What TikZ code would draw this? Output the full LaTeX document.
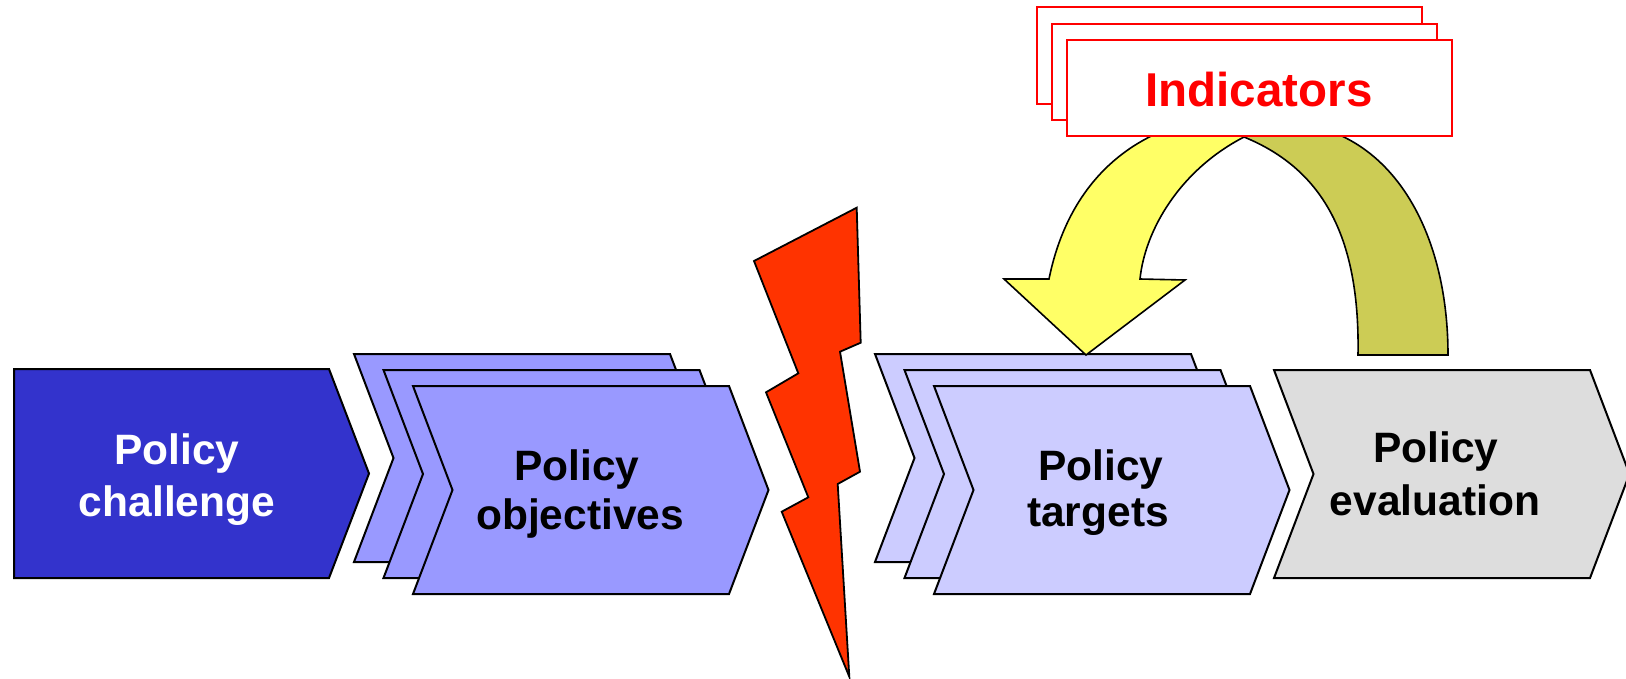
\documentclass[tikz,border=0pt]{standalone}
\usepackage{fontspec}
\setmainfont{Liberation Sans}
\definecolor{chalfill}{HTML}{3333CC}
\definecolor{objfill}{HTML}{9999FF}
\definecolor{tgtfill}{HTML}{CCCCFF}
\definecolor{evalfill}{HTML}{DDDDDD}
\definecolor{boltfill}{HTML}{FF3300}
\definecolor{arrowyellow}{HTML}{FFFF66}
\definecolor{arrowolive}{HTML}{CCCC55}
\definecolor{indred}{HTML}{FF0000}
\tikzset{
  pics/chevron/.style={code={\path[pic actions] (0,0) -- (316,0) -- (355.5,104) -- (316,208) -- (0,208) -- (39.5,104) -- cycle;}},
  pics/arrowbox/.style={code={\path[pic actions] (0,0) -- (315,0) -- (355,104.5) -- (315,209) -- (0,209) -- cycle;}},
  stepshape/.style={draw=black, line width=2pt, line join=miter},
  lbl/.style={font=\fontsize{42.5}{52}\selectfont\bfseries, anchor=base, inner sep=0pt},
  indbox/.style={draw=indred, fill=white, line width=1.6pt},
  bandline/.style={draw=black, line width=1.6pt, line join=miter},
}
\begin{document}
\begin{tikzpicture}[x=1pt,y=-1pt]
\useasboundingbox (0,0) rectangle (1626,678);
\fill[white] (0,0) rectangle (1626,678);

% Policy challenge
\pic[stepshape, fill=chalfill] at (14,369) {arrowbox};
\node[lbl, text=white] (chal1) at (177,464) {Policy};
\node[lbl, text=white] (chal2) at (177,516) {challenge};

% Policy objectives stack
\pic[stepshape, fill=objfill] at (354,354) {chevron};
\pic[stepshape, fill=objfill] at (383.5,370) {chevron};
\pic[stepshape, fill=objfill] at (413,386) {chevron};
\node[lbl] (obj1) at (577,480) {Policy};
\node[lbl] (obj2) at (580,529) {objectives};

% Lightning bolt
\draw[stepshape, line width=1.8pt, fill=boltfill] (754,261) -- (856.7,207.7) -- (860.7,342.7) -- (840,351.7) -- (860,471.7) -- (837.7,484) -- (849.3,676.7) -- (781.7,511.7) -- (808.3,497.3) -- (766,392.3) -- (798.3,373.3) -- cycle;

% Policy targets stack
\pic[stepshape, fill=tgtfill] at (875,354) {chevron};
\pic[stepshape, fill=tgtfill] at (904.5,370) {chevron};
\pic[stepshape, fill=tgtfill] at (934,386) {chevron};
\node[lbl] (tgt1) at (1101,480) {Policy};
\node[lbl] (tgt2) at (1098,526) {targets};

% Policy evaluation
\pic[stepshape, fill=evalfill] at (1274,370) {chevron};
\node[lbl] (eval1) at (1436,462) {Policy};
\node[lbl] (eval2) at (1435,515) {evaluation};

% Olive band (evaluation -> indicators)
\draw[bandline, fill=arrowolive] (1448,355) .. controls (1448,240) and (1400,150) .. (1320,128) -- (1244,128) -- (1244,137) .. controls (1325,170) and (1360,240) .. (1358,355) -- cycle;

% Yellow arrow (indicators -> targets)
\draw[bandline, fill=arrowyellow] (1004,279) -- (1049,279) .. controls (1065,200) and (1110,150) .. (1170,128) -- (1244,128) -- (1244,137) .. controls (1180,170) and (1145,230) .. (1140,279) -- (1185,280) -- (1086,355) -- cycle;

% Indicators stack
\draw[indbox] (1037,7) rectangle (1422,104);
\draw[indbox] (1052,24) rectangle (1437,120);
\draw[indbox] (1067,40) rectangle (1452,136);
\node[lbl, font=\fontsize{47.5}{55}\selectfont\bfseries, text=indred] (ind) at (1259,106) {Indicators};
\end{tikzpicture}
\end{document}
